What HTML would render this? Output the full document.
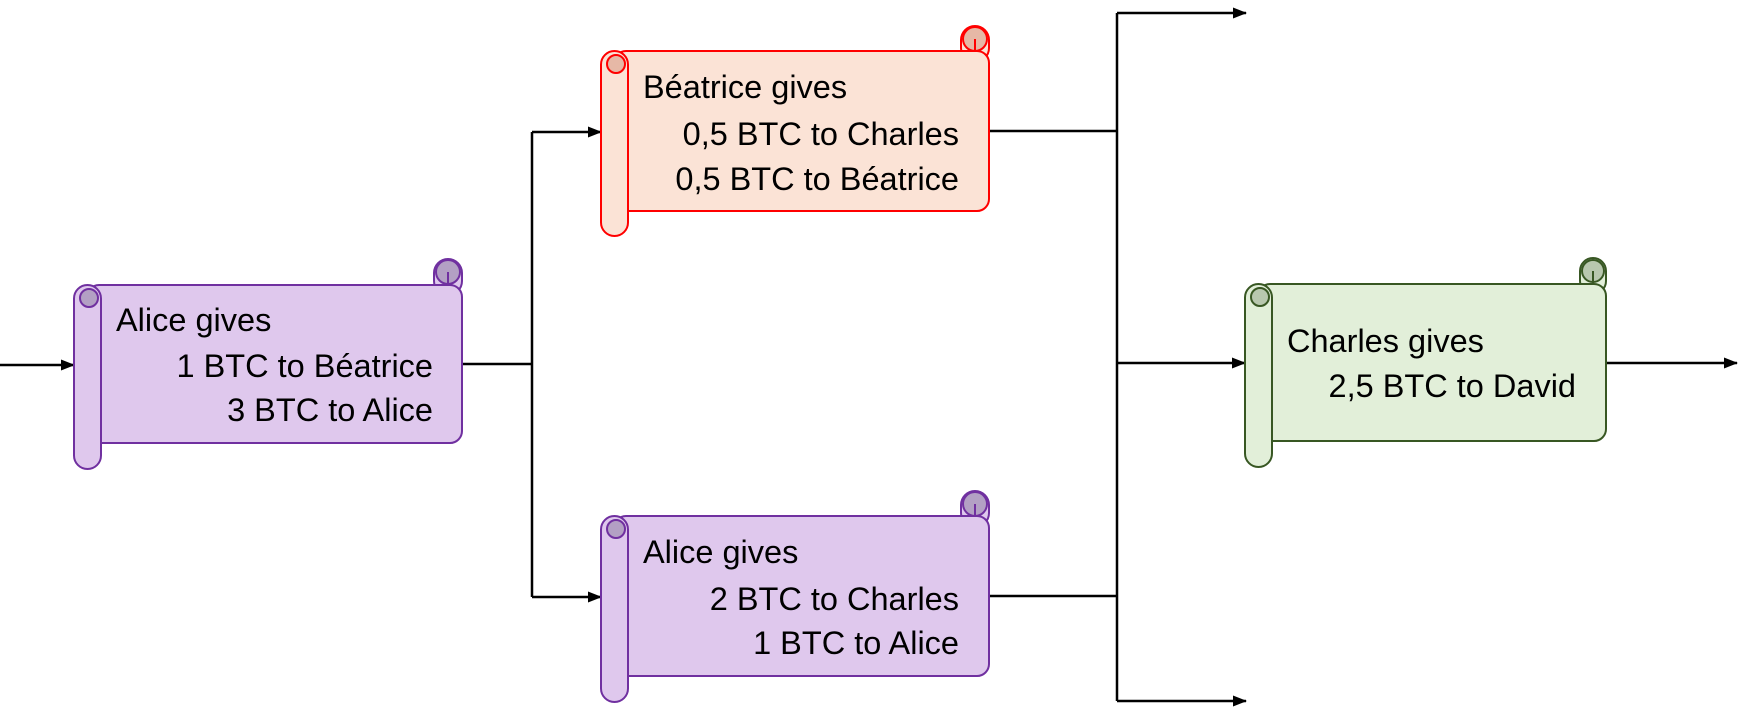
<!DOCTYPE html>
<html><head><meta charset="utf-8"><style>html,body{margin:0;padding:0;background:#fff}svg{display:block}text{font-family:"Liberation Sans",sans-serif;font-size:32.5px;fill:#000}</style></head><body>
<svg width="1748" height="716" viewBox="0 0 1748 716" xmlns="http://www.w3.org/2000/svg">
<defs><marker id="a" markerWidth="14" markerHeight="11" refX="13" refY="5.5" orient="auto" markerUnits="userSpaceOnUse"><path d="M0,0 L14,5.5 L0,11 z" fill="#000"/></marker></defs>
<g stroke="#000" stroke-width="2.5" fill="none">
<line x1="0" y1="365" x2="74" y2="365" marker-end="url(#a)"/>
<polyline points="462,364 532,364"/>
<line x1="532" y1="132" x2="532" y2="597"/>
<line x1="532" y1="132" x2="601" y2="132" marker-end="url(#a)"/>
<line x1="532" y1="597" x2="601" y2="597" marker-end="url(#a)"/>
<line x1="989" y1="131" x2="1117" y2="131"/>
<line x1="989" y1="596" x2="1117" y2="596"/>
<line x1="1117" y1="13" x2="1117" y2="701"/>
<line x1="1117" y1="13" x2="1246" y2="13" marker-end="url(#a)"/>
<line x1="1117" y1="363" x2="1245" y2="363" marker-end="url(#a)"/>
<line x1="1117" y1="701" x2="1246" y2="701" marker-end="url(#a)"/>
<line x1="1606" y1="363" x2="1737" y2="363" marker-end="url(#a)"/>
</g>
<!-- Alice1 -->
<g stroke="#7030a0" stroke-width="2" fill="#dfc8ed">
<rect x="434" y="259" width="28" height="36" rx="14"/>
<circle cx="448" cy="272" r="12" fill="#b3a0c4"/><line x1="448" y1="272" x2="448" y2="285"/>
<rect x="87" y="285" width="375" height="158" rx="12"/>
<rect x="74" y="285" width="27" height="184" rx="13.5"/>
<circle cx="89" cy="298" r="9" fill="#b3a0c4"/>
</g>
<text x="116" y="331">Alice gives</text>
<text x="433" y="377" text-anchor="end">1 BTC to Béatrice</text>
<text x="433" y="421" text-anchor="end">3 BTC to Alice</text>
<!-- Beatrice -->
<g stroke="#ff0000" stroke-width="2" fill="#fbe3d6">
<rect x="961" y="26" width="28" height="36" rx="14"/>
<circle cx="975" cy="39" r="12" fill="#e6b8a6"/><line x1="975" y1="39" x2="975" y2="51"/>
<rect x="614" y="51" width="375" height="160" rx="12"/>
<rect x="601" y="51" width="27" height="185" rx="13.5"/>
<circle cx="616" cy="64" r="9" fill="#e6b8a6"/>
</g>
<text x="643" y="98">Béatrice gives</text>
<text x="959" y="145" text-anchor="end">0,5 BTC to Charles</text>
<text x="959" y="190" text-anchor="end">0,5 BTC to Béatrice</text>
<!-- Alice2 -->
<g stroke="#7030a0" stroke-width="2" fill="#dfc8ed">
<rect x="961" y="491" width="28" height="36" rx="14"/>
<circle cx="975" cy="504" r="12" fill="#b3a0c4"/><line x1="975" y1="504" x2="975" y2="516"/>
<rect x="614" y="516" width="375" height="160" rx="12"/>
<rect x="601" y="516" width="27" height="186" rx="13.5"/>
<circle cx="616" cy="529" r="9" fill="#b3a0c4"/>
</g>
<text x="643" y="563">Alice gives</text>
<text x="959" y="610" text-anchor="end">2 BTC to Charles</text>
<text x="959" y="654" text-anchor="end">1 BTC to Alice</text>
<!-- Charles -->
<g stroke="#385723" stroke-width="2" fill="#e2efd9">
<rect x="1580" y="258" width="26" height="36" rx="13"/>
<circle cx="1593" cy="271" r="11" fill="#b8c7ae"/><line x1="1593" y1="271" x2="1593" y2="284"/>
<rect x="1258" y="284" width="348" height="157" rx="12"/>
<rect x="1245" y="284" width="27" height="183" rx="13.5"/>
<circle cx="1260" cy="297" r="9" fill="#b8c7ae"/>
</g>
<text x="1287" y="352">Charles gives</text>
<text x="1576" y="397" text-anchor="end">2,5 BTC to David</text>
</svg>
</body></html>
